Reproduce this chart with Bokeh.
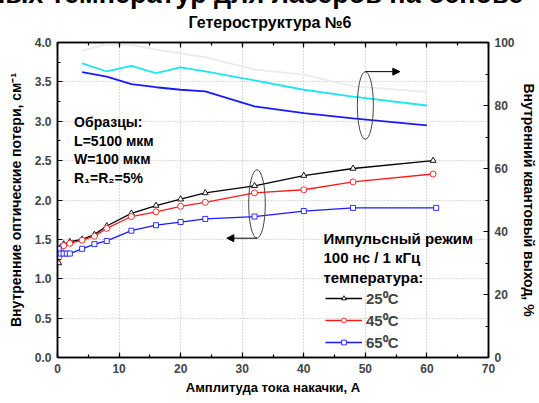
from bokeh.plotting import figure
from bokeh.models import (Range1d, LinearAxis, SingleIntervalTicker, Label, Legend,
                          LegendItem, Arrow, NormalHead, Title, NumeralTickFormatter,
                          CustomJSTickFormatter, Div)
from bokeh.layouts import column
from bokeh.embed import file_html
from bokeh.resources import INLINE

# ---------------- data ----------------
current_25 = [0.2, 0.5, 1, 2, 4, 6, 8, 12, 16, 20, 24, 32, 40, 48, 61]
loss_25 = [1.20, 1.40, 1.44, 1.47, 1.50, 1.56, 1.67, 1.83, 1.93, 2.01, 2.09, 2.18, 2.31, 2.40, 2.50]
current_45 = [0.2, 0.5, 1, 2, 4, 6, 8, 12, 16, 20, 24, 32, 40, 48, 61]
loss_45 = [1.27, 1.38, 1.42, 1.45, 1.49, 1.54, 1.64, 1.79, 1.85, 1.92, 1.97, 2.09, 2.13, 2.23, 2.33]
current_65 = [0.2, 0.5, 1, 1.5, 2, 4, 6, 8, 12, 16, 20, 24, 32, 40, 48, 61.5]
loss_65 = [1.38, 1.32, 1.32, 1.32, 1.32, 1.38, 1.44, 1.48, 1.61, 1.68, 1.72, 1.76, 1.79, 1.86, 1.90, 1.90]

current_eff = [4, 8, 12, 16, 20, 24, 32, 40, 48, 60]
eff_25 = [97.4, 99.5, 99.3, 97.7, 96.6, 95.3, 91.4, 89.8, 86.1, 84.3]
eff_45 = [93.4, 90.8, 92.6, 90.3, 92.1, 90.8, 88.0, 85.0, 82.8, 80.0]
eff_65 = [90.6, 89.2, 86.8, 85.8, 85.0, 84.5, 79.7, 77.6, 75.9, 73.7]

x_ticks_interval = 10
left_ticks_interval = 0.5
right_ticks_interval = 20

FONT = "Liberation Sans"

p = figure(width=539, height=403, x_range=Range1d(0, 70), y_range=Range1d(0, 4),
           output_backend="svg", toolbar_location=None,
           min_border_left=57, min_border_right=48, min_border_top=41, min_border_bottom=46,
           x_axis_location=None, y_axis_location=None)
p.extra_y_ranges = {"eff": Range1d(0, 100)}
p.background_fill_color = "white"
p.border_fill_color = "white"
p.outline_line_color = "black"
p.outline_line_width = 1.5

p.title = Title(text="Гетероструктура №6", align="left", offset=131,
                text_font=FONT, text_font_style="bold", text_font_size="16px",
                text_color="black", standoff=23)


def style_axis(ax, show_labels=True):
    ax.axis_line_color = "black"
    ax.axis_line_width = 1.5
    ax.major_tick_in = 5
    ax.major_tick_out = 0
    ax.minor_tick_in = 3
    ax.minor_tick_out = 0
    ax.major_tick_line_width = 1.2
    ax.minor_tick_line_width = 1.2
    ax.major_label_text_font = FONT
    ax.major_label_text_font_style = "bold"
    ax.major_label_text_font_size = "12px"
    ax.major_label_standoff = 6 if show_labels else 0
    ax.axis_label_text_font = FONT
    ax.axis_label_text_font_style = "bold"
    ax.axis_label_text_font_size = "14px"
    ax.axis_label_text_color = "black"


xt = SingleIntervalTicker(interval=x_ticks_interval, num_minor_ticks=2)
lt = SingleIntervalTicker(interval=left_ticks_interval, num_minor_ticks=2)
rt = SingleIntervalTicker(interval=right_ticks_interval, num_minor_ticks=2)

bottom = LinearAxis(ticker=xt, axis_label="Амплитуда тока накачки, А")
style_axis(bottom)
bottom.axis_label_standoff = 4
bottom.axis_label_text_font_size = "13px"
p.add_layout(bottom, "below")

top = LinearAxis(ticker=xt, formatter=CustomJSTickFormatter(code="return ''"))
style_axis(top, show_labels=False)
p.add_layout(top, "above")

left = LinearAxis(ticker=lt, axis_label="Внутренние оптические потери, см⁻¹",
                  formatter=NumeralTickFormatter(format="0.0"))
style_axis(left)
left.axis_label_standoff = 8
p.add_layout(left, "left")

right = LinearAxis(ticker=rt, y_range_name="eff", axis_label="Внутренний квантовый выход, %")
style_axis(right)
right.axis_label_standoff = 3
p.add_layout(right, "right")

p.xgrid.ticker = xt
p.ygrid.ticker = lt
for g in (p.xgrid, p.ygrid):
    g.grid_line_color = "#b8b8b8"
    g.grid_line_dash = "1 2"
    g.grid_line_width = 1

# upper curves (quantum efficiency, right axis)
p.line(current_eff, eff_25, y_range_name="eff", line_color="#ececec", line_width=2)
p.line(current_eff, eff_45, y_range_name="eff", line_color="#1ee6ee", line_width=1.8)
p.line(current_eff, eff_65, y_range_name="eff", line_color="#1a1aff", line_width=1.8)

# lower curves (losses, left axis)
l25 = p.line(current_25, loss_25, line_color="black", line_width=1.3)
s25 = p.scatter(current_25, loss_25, marker="triangle", size=6, line_color="black",
                fill_color="white", line_width=0.9)
l45 = p.line(current_45, loss_45, line_color="#ff1a1a", line_width=1.3)
s45 = p.scatter(current_45, loss_45, marker="circle", size=6, line_color="#ff1a1a",
                fill_color="white", line_width=0.9)
l65 = p.line(current_65, loss_65, line_color="#1a1aff", line_width=1.3)
s65 = p.scatter(current_65, loss_65, marker="square", size=5, line_color="#1a1aff",
                fill_color="white", line_width=0.9)

# ellipses with arrows
p.ellipse(x=[50.0], y=[3.20], width=[2.6], height=[0.86], fill_alpha=0,
          line_color="#444444", line_width=1)
p.ellipse(x=[32.4], y=[1.95], width=[2.7], height=[0.87], fill_alpha=0,
          line_color="#444444", line_width=1)
p.add_layout(Arrow(end=NormalHead(size=7, fill_color="black", line_color="black"),
                   x_start=50.0, y_start=3.63, x_end=55.6, y_end=3.63,
                   line_color="black", line_width=1))
p.add_layout(Arrow(end=NormalHead(size=7, fill_color="black", line_color="black"),
                   x_start=32.4, y_start=1.515, x_end=27.5, y_end=1.515,
                   line_color="black", line_width=1))


def add_label(text, x, y, size="14px", align="left", baseline="middle"):
    p.add_layout(Label(x=x, y=y, text=text,
                       text_font=FONT, text_font_style="bold",
                       text_font_size=size, text_color="black", text_align=align,
                       text_baseline=baseline))


# sample description
add_label("Образцы:", 2.7, 2.99)
add_label("L=5100 мкм", 2.7, 2.75)
add_label("W=100 мкм", 2.7, 2.52)
add_label("R₁=R₂=5%", 2.7, 2.28)

# legend header
add_label("Импульсный режим", 43.2, 1.51, size="15px")
add_label("100 нс / 1 кГц", 43.2, 1.27, size="15px")
add_label("температура:", 43.2, 1.02, size="15px")

legend = Legend(items=[LegendItem(label="25⁰C", renderers=[l25, s25]),
                       LegendItem(label="45⁰C", renderers=[l45, s45]),
                       LegendItem(label="65⁰C", renderers=[l65, s65])],
                location=(268, 5), orientation="vertical",
                border_line_alpha=0, background_fill_alpha=0, padding=0, margin=0,
                spacing=2, glyph_width=37, glyph_height=12, label_height=20,
                label_standoff=4, label_text_font=FONT, label_text_font_style="bold",
                label_text_font_size="15px")
p.add_layout(legend)

# partially visible heading at the very top of the page (cut by the page edge)
head = Div(text="ных температур для лазеров на основе", width=580, height=30,
           styles={"position": "absolute", "top": "-21px", "left": "-11px",
                   "font-family": FONT, "font-weight": "bold", "font-size": "27px",
                   "white-space": "nowrap", "color": "black", "z-index": "5",
                   "line-height": "30px", "margin": "0px", "padding": "0px"})

layout = column(head, p, spacing=0)

open("out.html", "w").write(file_html(layout, INLINE))
